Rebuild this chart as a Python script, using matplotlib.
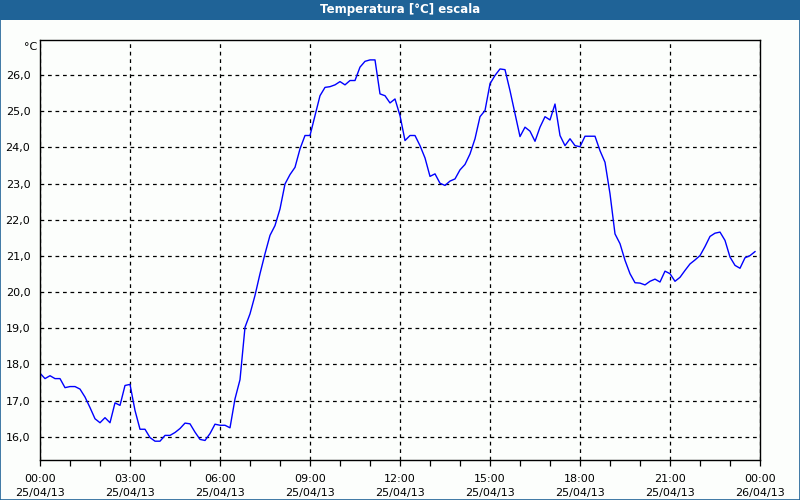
import numpy as np
import pandas as pd
import matplotlib
matplotlib.use('Agg')
import matplotlib.pyplot as plt
import matplotlib.dates as mdates
from matplotlib.patches import Rectangle

# temperatura svakih 10 minuta, 25/04/13 00:00 - 23:50
temp = [17.76, 17.61, 17.69, 17.61, 17.61, 17.36, 17.39, 17.39, 17.32, 17.10, 16.81, 16.50,
        16.39, 16.53, 16.39, 16.94, 16.87, 17.42, 17.45, 16.73, 16.21, 16.21, 15.98, 15.88,
        15.88, 16.04, 16.04, 16.12, 16.23, 16.38, 16.36, 16.13, 15.93, 15.90, 16.09, 16.35,
        16.32, 16.32, 16.25, 17.05, 17.58, 19.03, 19.40, 19.91, 20.51, 21.06, 21.57, 21.84,
        22.30, 22.99, 23.25, 23.45, 23.96, 24.33, 24.33, 24.88, 25.43, 25.66, 25.68, 25.73,
        25.82, 25.73, 25.85, 25.85, 26.22, 26.38, 26.42, 26.42, 25.48, 25.43, 25.23, 25.34,
        24.88, 24.19, 24.33, 24.33, 24.05, 23.71, 23.20, 23.27, 23.01, 22.95, 23.07, 23.13,
        23.38, 23.53, 23.82, 24.24, 24.85, 25.02, 25.76, 25.99, 26.17, 26.15, 25.57, 24.93,
        24.30, 24.56, 24.45, 24.17, 24.56, 24.85, 24.76, 25.20, 24.33, 24.05, 24.24, 24.05,
        24.02, 24.31, 24.31, 24.31, 23.91, 23.59, 22.72, 21.61, 21.34, 20.88, 20.51, 20.26,
        20.25, 20.20, 20.30, 20.36, 20.28, 20.58, 20.51, 20.30, 20.41, 20.60, 20.78, 20.89,
        21.01, 21.26, 21.54, 21.63, 21.66, 21.43, 20.97, 20.74, 20.66, 20.95, 21.01, 21.12]
vrijeme = pd.date_range('2013-04-25 00:00', periods=len(temp), freq='10min')

pozadina = '#fcfefc'
plava = '#1f6397'

fig = plt.figure(figsize=(8, 5), dpi=100, facecolor=pozadina)

# naslovna traka
fig.patches.append(Rectangle((0, 0.96), 1, 0.04, transform=fig.transFigure,
                             facecolor=plava, edgecolor='none', zorder=0))
fig.patches.append(Rectangle((0.0006, 0.001), 0.9988, 0.998, transform=fig.transFigure,
                             facecolor='none', edgecolor=plava, linewidth=1.2, zorder=5))
fig.text(0.5, 0.98, 'Temperatura [°C] escala', color='white', fontsize=8.5,
         fontweight='bold', ha='center', va='center')
fig.text(0.047, 0.906, '°C', fontsize=8, ha='right', va='center')

ax = fig.add_axes([0.05, 0.08, 0.9, 0.84], facecolor=pozadina)
ax.plot(vrijeme, temp, color='#0000ff', linewidth=1)

ax.set_xlim(pd.Timestamp('2013-04-25 00:00'), pd.Timestamp('2013-04-26 00:00'))
ax.set_ylim(15.36, 26.97)
ax.set_yticks(np.arange(16, 27, 1))
ax.set_yticklabels([f'{v:.1f}'.replace('.', ',') for v in np.arange(16, 27, 1)])

ax.xaxis.set_major_locator(mdates.HourLocator(byhour=range(0, 24, 3)))
ax.xaxis.set_minor_locator(mdates.HourLocator())
ax.xaxis.set_major_formatter(mdates.DateFormatter('%H:%M\n%d/%m/%y'))

ax.grid(True, which='major', color='black', linestyle=(0, (3, 3)), linewidth=0.9)
ax.tick_params(axis='y', length=0, pad=7, labelsize=8)
ax.tick_params(axis='x', which='both', direction='out', length=4, width=0.9, pad=6, labelsize=8)
for t in ax.get_xticklabels():
    t.set_linespacing(1.5)
for s in ax.spines.values():
    s.set_linewidth(1)
    s.set_color('black')

plt.savefig('out.png', dpi=100, facecolor=pozadina)
